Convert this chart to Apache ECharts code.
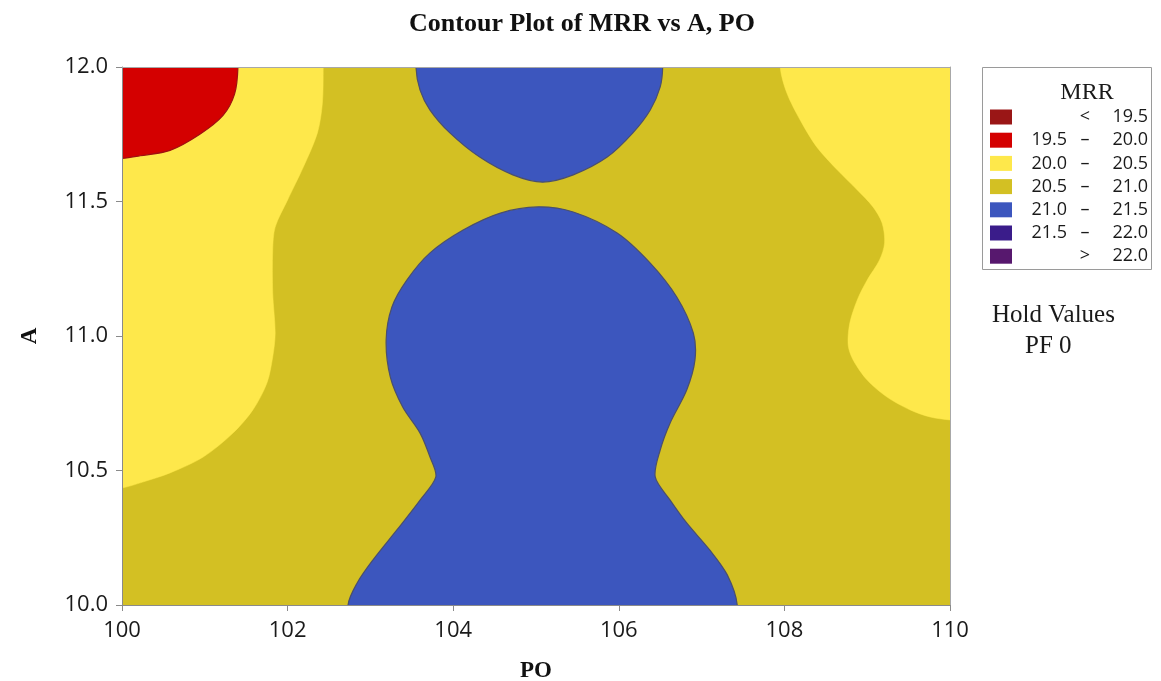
<!DOCTYPE html>
<html>
<head>
<meta charset="utf-8">
<title>Contour Plot of MRR vs A, PO</title>
<script src="https://cdn.jsdelivr.net/npm/echarts@6/dist/echarts.min.js"></script>
<style>
  html, body { margin: 0; padding: 0; background: #ffffff; }
  #chart { width: 1161px; height: 681px; }
</style>
</head>
<body>
<div id="chart"></div>
<script>
// Axis ranges and ticks
const poRange = [100, 110];
const aRange = [10, 12];
const poInterval = 2;
const aInterval = 0.5;

// Contour boundaries, as [PO, A] points along each band edge
// 19.5 – 20.0 band, top-left corner
const redEdge = [
  [101.40, 12.0], [101.36, 11.90], [101.22, 11.82], [100.94, 11.75],
  [100.58, 11.69], [100.22, 11.67], [100.00, 11.66]
];
// 20.0 – 20.5 band, left side
const yellowLeftEdge = [
  [102.43, 12.0], [102.42, 11.866], [102.36, 11.755], [102.19, 11.628],
  [102.00, 11.506], [101.85, 11.405], [101.82, 11.320], [101.82, 11.160],
  [101.85, 11.011], [101.82, 10.922], [101.75, 10.825], [101.58, 10.725],
  [101.34, 10.639], [100.98, 10.550], [100.58, 10.491], [100.25, 10.457],
  [100.00, 10.435]
];
// 20.0 – 20.5 band, right side
const yellowRightEdge = [
  [107.95, 12.0], [108.03, 11.903], [108.19, 11.803], [108.39, 11.703],
  [108.64, 11.617], [108.88, 11.543], [109.07, 11.480], [109.18, 11.420],
  [109.21, 11.346], [109.15, 11.283], [109.00, 11.208], [108.88, 11.134],
  [108.79, 11.048], [108.77, 10.967], [108.83, 10.911], [109.00, 10.836],
  [109.24, 10.773], [109.52, 10.725], [109.76, 10.699], [110.00, 10.688]
];
// 21.0 – 21.5 band, upper lobe
const blueTopEdge = [
  [103.55, 12.0], [103.60, 11.914], [103.72, 11.840], [103.96, 11.755],
  [104.32, 11.665], [104.72, 11.599], [105.08, 11.572], [105.45, 11.599],
  [105.86, 11.665], [106.17, 11.755], [106.38, 11.840], [106.50, 11.926],
  [106.53, 12.0]
];
// 21.0 – 21.5 band, lower lobe
const blueBottomEdge = [
  [102.73, 10.0], [102.84, 10.082], [103.03, 10.167], [103.32, 10.279],
  [103.60, 10.390], [103.79, 10.476], [103.72, 10.550], [103.60, 10.639],
  [103.39, 10.736], [103.24, 10.848], [103.19, 10.985], [103.26, 11.108],
  [103.44, 11.208], [103.72, 11.309], [104.12, 11.394], [104.57, 11.457],
  [105.02, 11.480], [105.45, 11.461], [105.98, 11.383], [106.38, 11.271],
  [106.70, 11.145], [106.90, 11.011], [106.92, 10.911], [106.82, 10.799],
  [106.62, 10.677], [106.50, 10.576], [106.44, 10.476], [106.62, 10.390],
  [106.82, 10.305], [107.10, 10.204], [107.31, 10.112], [107.43, 10.0]
];

// Legend bands
const bandColors = ['#9A1616', '#D40000', '#FEE84B', '#D3C023', '#3C56BE', '#3A1C8A', '#57186E'];
const bandLow  = ['',     '19.5', '20.0', '20.5', '21.0', '21.5', ''];
const bandSep  = ['<',    '–',    '–',    '–',    '–',    '–',    '>'];
const bandHigh = ['19.5', '20.0', '20.5', '21.0', '21.5', '22.0', '22.0'];

const holdText = ['Hold Values', 'PF 0'];

const COLOR = {
  red: bandColors[1], yellow: bandColors[2], olive: bandColors[3], blue: bandColors[4]
};

// Closing points sit just outside the plot so the smoothed outline
// meets the frame cleanly; the grid clip trims them away.
const OUT = 0.3;
const outTop = aRange[1] + OUT, outBottom = aRange[0] - OUT;
const outLeft = poRange[0] - OUT / 2, outRight = poRange[1] + OUT / 2;

function lastOf(arr) { return arr[arr.length - 1]; }

function band(name, edge, closing, fill, stroke) {
  return {
    type: 'custom',
    name: name,
    coordinateSystem: 'cartesian2d',
    clip: true,
    silent: true,
    z: 2,
    data: [edge[0]],
    renderItem: function (params, api) {
      const pts = closing.slice(0, 1).concat(edge, closing.slice(1)).map(p => api.coord(p));
      return {
        type: 'polygon',
        shape: { points: pts, smooth: 0.3 },
        style: { fill: fill, stroke: stroke || fill, lineWidth: stroke ? 1.2 : 0.5 }
      };
    }
  };
}

const serif = '"Liberation Serif", "DejaVu Serif", serif';
const sans = '"Open Sans", "Noto Sans", sans-serif';

// Legend drawn as graphic elements
const legendX = 982, legendY = 67, legendW = 169, legendH = 202;
const rowY0 = 117, rowStep = 23.2;
const legendGraphics = [
  { type: 'rect', shape: { x: legendX + 0.5, y: legendY + 0.5, width: legendW, height: legendH },
    style: { fill: '#ffffff', stroke: '#9a9a9a', lineWidth: 1 } },
  { type: 'text', x: 1087, y: 93,
    style: { text: 'MRR', font: '24px ' + serif, fill: '#1a1a1a', align: 'center', verticalAlign: 'middle' } }
];
bandColors.forEach(function (c, i) {
  const y = rowY0 + i * rowStep;
  legendGraphics.push({ type: 'rect', shape: { x: 990, y: y - 7.5, width: 22, height: 15 }, style: { fill: c } });
  if (bandLow[i]) {
    legendGraphics.push({ type: 'text', x: 1067, y: y,
      style: { text: bandLow[i], font: '18px ' + sans, fill: '#1a1a1a', align: 'right', verticalAlign: 'middle' } });
  }
  legendGraphics.push({ type: 'text', x: 1085, y: y,
    style: { text: bandSep[i], font: '18px ' + sans, fill: '#1a1a1a', align: 'center', verticalAlign: 'middle' } });
  legendGraphics.push({ type: 'text', x: 1148, y: y,
    style: { text: bandHigh[i], font: '18px ' + sans, fill: '#1a1a1a', align: 'right', verticalAlign: 'middle' } });
});
legendGraphics.push({ type: 'text', x: 992, y: 315,
  style: { text: holdText[0], font: '25px ' + serif, fill: '#1a1a1a', align: 'left', verticalAlign: 'middle' } });
legendGraphics.push({ type: 'text', x: 1025, y: 346,
  style: { text: holdText[1], font: '25px ' + serif, fill: '#1a1a1a', align: 'left', verticalAlign: 'middle' } });

const axisLineStyle = { color: '#8a8a8a', width: 1 };

const chart = echarts.init(document.getElementById('chart'), null, { renderer: 'canvas' });
chart.setOption({
  animation: false,
  backgroundColor: '#ffffff',
  title: {
    text: 'Contour Plot of MRR vs A, PO',
    left: 577, top: 6, textAlign: 'center',
    textStyle: { fontFamily: serif, fontWeight: 'bold', fontSize: 26, color: '#111' }
  },
  grid: {
    left: 122, right: 211, top: 67, bottom: 76,
    outerBoundsMode: 'none', containLabel: false,
    show: true, backgroundColor: COLOR.olive, borderWidth: 0
  },
  xAxis: [{
    type: 'value', min: poRange[0], max: poRange[1], interval: poInterval,
    name: 'PO', nameLocation: 'middle', nameGap: 55,
    nameTextStyle: { fontFamily: serif, fontWeight: 'bold', fontSize: 23, color: '#111' },
    axisLine: { show: true, onZero: false, lineStyle: axisLineStyle },
    axisTick: { show: true, length: 6, lineStyle: axisLineStyle },
    axisLabel: { fontFamily: sans, fontSize: 22, color: '#1a1a1a', margin: 15 },
    splitLine: { show: false },
    z: 10
  }, {
    type: 'value', position: 'top', min: poRange[0], max: poRange[1],
    axisLine: { show: true, onZero: false, lineStyle: { color: '#a8a8a8', width: 1 } },
    axisTick: { show: false }, axisLabel: { show: false }, splitLine: { show: false },
    z: 10
  }],
  yAxis: [{
    type: 'value', min: aRange[0], max: aRange[1], interval: aInterval,
    name: 'A', nameLocation: 'middle', nameGap: 80,
    nameTextStyle: { fontFamily: serif, fontWeight: 'bold', fontSize: 23, color: '#111' },
    axisLine: { show: true, onZero: false, lineStyle: axisLineStyle },
    axisTick: { show: true, length: 6, lineStyle: axisLineStyle },
    axisLabel: { fontFamily: sans, fontSize: 22, color: '#1a1a1a', margin: 14,
      formatter: v => v.toFixed(1) },
    splitLine: { show: false },
    z: 10
  }, {
    type: 'value', position: 'right', min: aRange[0], max: aRange[1],
    axisLine: { show: true, onZero: false, lineStyle: { color: '#a8a8a8', width: 1 } },
    axisTick: { show: false }, axisLabel: { show: false }, splitLine: { show: false },
    z: 10
  }],
  graphic: legendGraphics,
  series: [
    band('20.0 – 20.5 left', yellowLeftEdge,
      [[yellowLeftEdge[0][0], outTop], [outLeft, lastOf(yellowLeftEdge)[1]], [outLeft, outTop]],
      COLOR.yellow, null),
    band('19.5 – 20.0', redEdge,
      [[redEdge[0][0], outTop], [outLeft, lastOf(redEdge)[1]], [outLeft, outTop]],
      COLOR.red, '#a01010'),
    band('20.0 – 20.5 right', yellowRightEdge,
      [[yellowRightEdge[0][0], outTop], [outRight, lastOf(yellowRightEdge)[1]], [outRight, outTop]],
      COLOR.yellow, null),
    band('21.0 – 21.5 top', blueTopEdge,
      [[blueTopEdge[0][0], outTop], [lastOf(blueTopEdge)[0], outTop]],
      COLOR.blue, '#4a4f6e'),
    band('21.0 – 21.5 bottom', blueBottomEdge,
      [[blueBottomEdge[0][0], outBottom], [lastOf(blueBottomEdge)[0], outBottom]],
      COLOR.blue, '#4a4f6e')
  ]
});
</script>
</body>
</html>
